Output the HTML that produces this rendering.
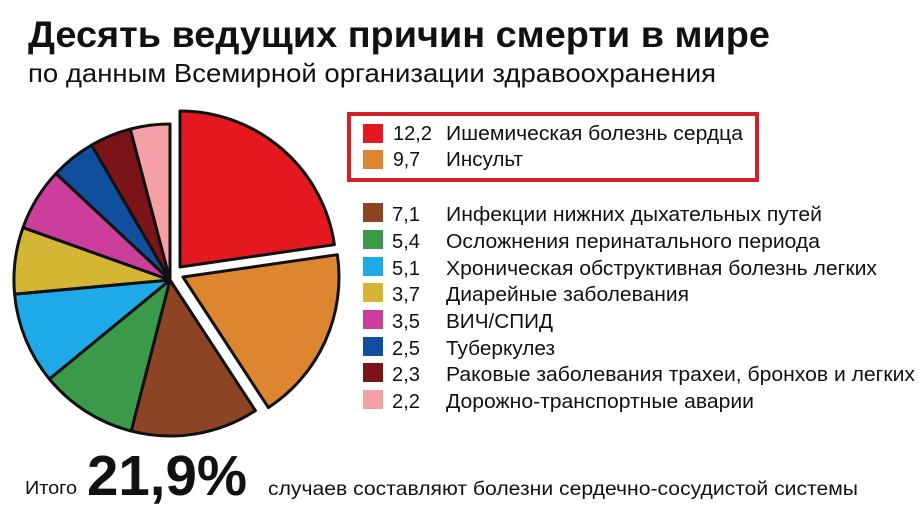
<!DOCTYPE html>
<html>
<head>
<meta charset="utf-8">
<style>
  html, body { margin:0; padding:0; background:#ffffff; }
  svg { display:block; }
  text { font-family: "Liberation Sans", "Noto Sans CJK SC", sans-serif; fill:#111; }
</style>
</head>
<body>
<svg width="922" height="528" viewBox="0 0 922 528" xmlns="http://www.w3.org/2000/svg">
  <rect x="0" y="0" width="922" height="528" fill="#ffffff"/>

  <!-- Title -->
  <text x="28" y="47" font-size="37" font-weight="bold" fill="#0d0d0d" textLength="742" lengthAdjust="spacingAndGlyphs">Десять ведущих причин смерти в мире</text>
  <text x="28" y="82" font-size="26" fill="#151515" textLength="688" lengthAdjust="spacingAndGlyphs">по данным Всемирной организации здравоохранения</text>

  <!-- Pie -->
  <g stroke="#111" stroke-width="3" stroke-linejoin="round">
    <path d="M170,280 L255.4,410.6 A156,156 0 0 1 131.2,431.1 Z" fill="#8c4424"/>
    <path d="M170,280 L131.2,431.1 A156,156 0 0 1 49.4,379.0 Z" fill="#3a9a4a"/>
    <path d="M170,280 L49.4,379.0 A156,156 0 0 1 14.6,294.1 Z" fill="#1ea9e8"/>
    <path d="M170,280 L14.6,294.1 A156,156 0 0 1 23.0,227.6 Z" fill="#d4b534"/>
    <path d="M170,280 L23.0,227.6 A156,156 0 0 1 56.0,173.5 Z" fill="#cc3e9c"/>
    <path d="M170,280 L56.0,173.5 A156,156 0 0 1 91.6,145.1 Z" fill="#124e9e"/>
    <path d="M170,280 L91.6,145.1 A156,156 0 0 1 130.3,129.1 Z" fill="#7a1418"/>
    <path d="M170,280 L130.3,129.1 A156,156 0 0 1 170,124 Z" fill="#f4a0a6"/>
    <path d="M180,267 L180,111 A156,156 0 0 1 334.4,244.7 Z" fill="#e3191f"/>
    <path d="M183,277 L337.4,254.7 A156,156 0 0 1 268.4,407.6 Z" fill="#de8530"/>
  </g>

  <!-- Highlight box -->
  <rect x="349" y="114" width="408" height="66" fill="none" stroke="#d42027" stroke-width="4"/>

  <!-- Legend squares -->
  <rect x="363" y="124" width="20" height="19" fill="#e3191f"/>
  <rect x="363" y="150" width="20" height="19" fill="#de8530"/>
  <rect x="363" y="203" width="20" height="19" fill="#8c4424"/>
  <rect x="363" y="230" width="20" height="19" fill="#3a9a4a"/>
  <rect x="363" y="257" width="20" height="19" fill="#1ea9e8"/>
  <rect x="363" y="283" width="20" height="19" fill="#d4b534"/>
  <rect x="363" y="310" width="20" height="19" fill="#cc3e9c"/>
  <rect x="363" y="337" width="20" height="19" fill="#124e9e"/>
  <rect x="363" y="363" width="20" height="19" fill="#7a1418"/>
  <rect x="363" y="390" width="20" height="19" fill="#f4a0a6"/>

  <!-- Legend numbers -->
  <g font-size="20">
    <text x="393" y="140" textLength="39" lengthAdjust="spacingAndGlyphs">12,2</text>
    <text x="393" y="166" textLength="27" lengthAdjust="spacingAndGlyphs">9,7</text>
    <text x="392" y="221" textLength="28" lengthAdjust="spacingAndGlyphs">7,1</text>
    <text x="392" y="248" textLength="28" lengthAdjust="spacingAndGlyphs">5,4</text>
    <text x="392" y="275" textLength="28" lengthAdjust="spacingAndGlyphs">5,1</text>
    <text x="392" y="301" textLength="28" lengthAdjust="spacingAndGlyphs">3,7</text>
    <text x="392" y="328" textLength="28" lengthAdjust="spacingAndGlyphs">3,5</text>
    <text x="392" y="355" textLength="28" lengthAdjust="spacingAndGlyphs">2,5</text>
    <text x="392" y="381" textLength="28" lengthAdjust="spacingAndGlyphs">2,3</text>
    <text x="392" y="408" textLength="28" lengthAdjust="spacingAndGlyphs">2,2</text>
  </g>

  <!-- Legend labels -->
  <g font-size="20">
    <text x="446" y="140" textLength="297" lengthAdjust="spacingAndGlyphs">Ишемическая болезнь сердца</text>
    <text x="446" y="166" textLength="77" lengthAdjust="spacingAndGlyphs">Инсульт</text>
    <text x="446" y="221" textLength="376" lengthAdjust="spacingAndGlyphs">Инфекции нижних дыхательных путей</text>
    <text x="446" y="248" textLength="374" lengthAdjust="spacingAndGlyphs">Осложнения перинатального периода</text>
    <text x="446" y="275" textLength="431" lengthAdjust="spacingAndGlyphs">Хроническая обструктивная болезнь легких</text>
    <text x="446" y="301" textLength="243" lengthAdjust="spacingAndGlyphs">Диарейные заболевания</text>
    <text x="446" y="328" textLength="107" lengthAdjust="spacingAndGlyphs">ВИЧ/СПИД</text>
    <text x="446" y="355" textLength="109" lengthAdjust="spacingAndGlyphs">Туберкулез</text>
    <text x="446" y="381" textLength="469" lengthAdjust="spacingAndGlyphs">Раковые заболевания трахеи, бронхов и легких</text>
    <text x="446" y="408" textLength="308" lengthAdjust="spacingAndGlyphs">Дорожно-транспортные аварии</text>
  </g>

  <!-- Bottom line -->
  <text x="25" y="494" font-size="18" textLength="52" lengthAdjust="spacingAndGlyphs">Итого</text>
  <text x="87" y="495" font-size="57" font-weight="bold" textLength="160" lengthAdjust="spacingAndGlyphs">21,9%</text>
  <text x="268" y="495" font-size="19.5" textLength="590" lengthAdjust="spacingAndGlyphs">случаев составляют болезни сердечно-сосудистой системы</text>
</svg>
</body>
</html>
